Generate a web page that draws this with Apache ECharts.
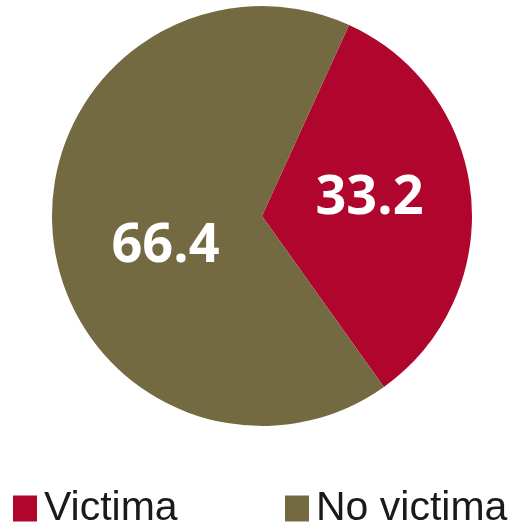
<!DOCTYPE html>
<html>
<head>
    <meta charset="utf-8">
    <title>Victima</title>
    <script src="https://cdn.jsdelivr.net/npm/echarts/dist/echarts.min.js"></script>
    <style>
        html, body { margin: 0; padding: 0; background: #fff; }
    </style>
</head>
<body>
<div id="chart-container" style="width: 511px; height: 526px;"></div>
<script>
    // datos
    var categories = ['Victima', 'No victima'];
    var values = [33.2, 66.4];
    var colors = ['#B0052C', '#746A42'];
    var labelOffsets = [[0, -7], [11, 20]];

    var pieData = categories.map(function (name, i) {
        return {
            name: name,
            value: values[i],
            itemStyle: { color: colors[i] },
            label: { offset: labelOffsets[i] }
        };
    });

    function legendFor(i, left) {
        return {
            left: left,
            top: 488,
            padding: 0,
            orient: 'horizontal',
            icon: 'rect',
            itemWidth: 24,
            itemHeight: 26,
            itemGap: 10,
            selectedMode: false,
            data: [categories[i]],
            textStyle: {
                fontFamily: 'Liberation Sans',
                fontSize: 41,
                lineHeight: 36,
                color: '#1a1a1a',
                padding: [0, 0, 0, 2]
            }
        };
    }

    var option = {
        animation: false,
        backgroundColor: '#fff',
        legend: [legendFor(0, 13), legendFor(1, 285)],
        series: [
            {
                type: 'pie',
                center: [262, 216],
                radius: [0, 210],
                startAngle: 65.5,
                clockwise: true,
                label: {
                    show: true,
                    position: 'inner',
                    color: '#fff',
                    fontFamily: 'Open Sans',
                    fontWeight: 'bold',
                    fontSize: 54,
                    formatter: function (p) { return p.value.toFixed(1); }
                },
                labelLine: { show: false },
                emphasis: { disabled: true },
                data: pieData
            }
        ]
    };

    var chart = echarts.init(document.getElementById('chart-container'));
    chart.setOption(option);
</script>
</body>
</html>
